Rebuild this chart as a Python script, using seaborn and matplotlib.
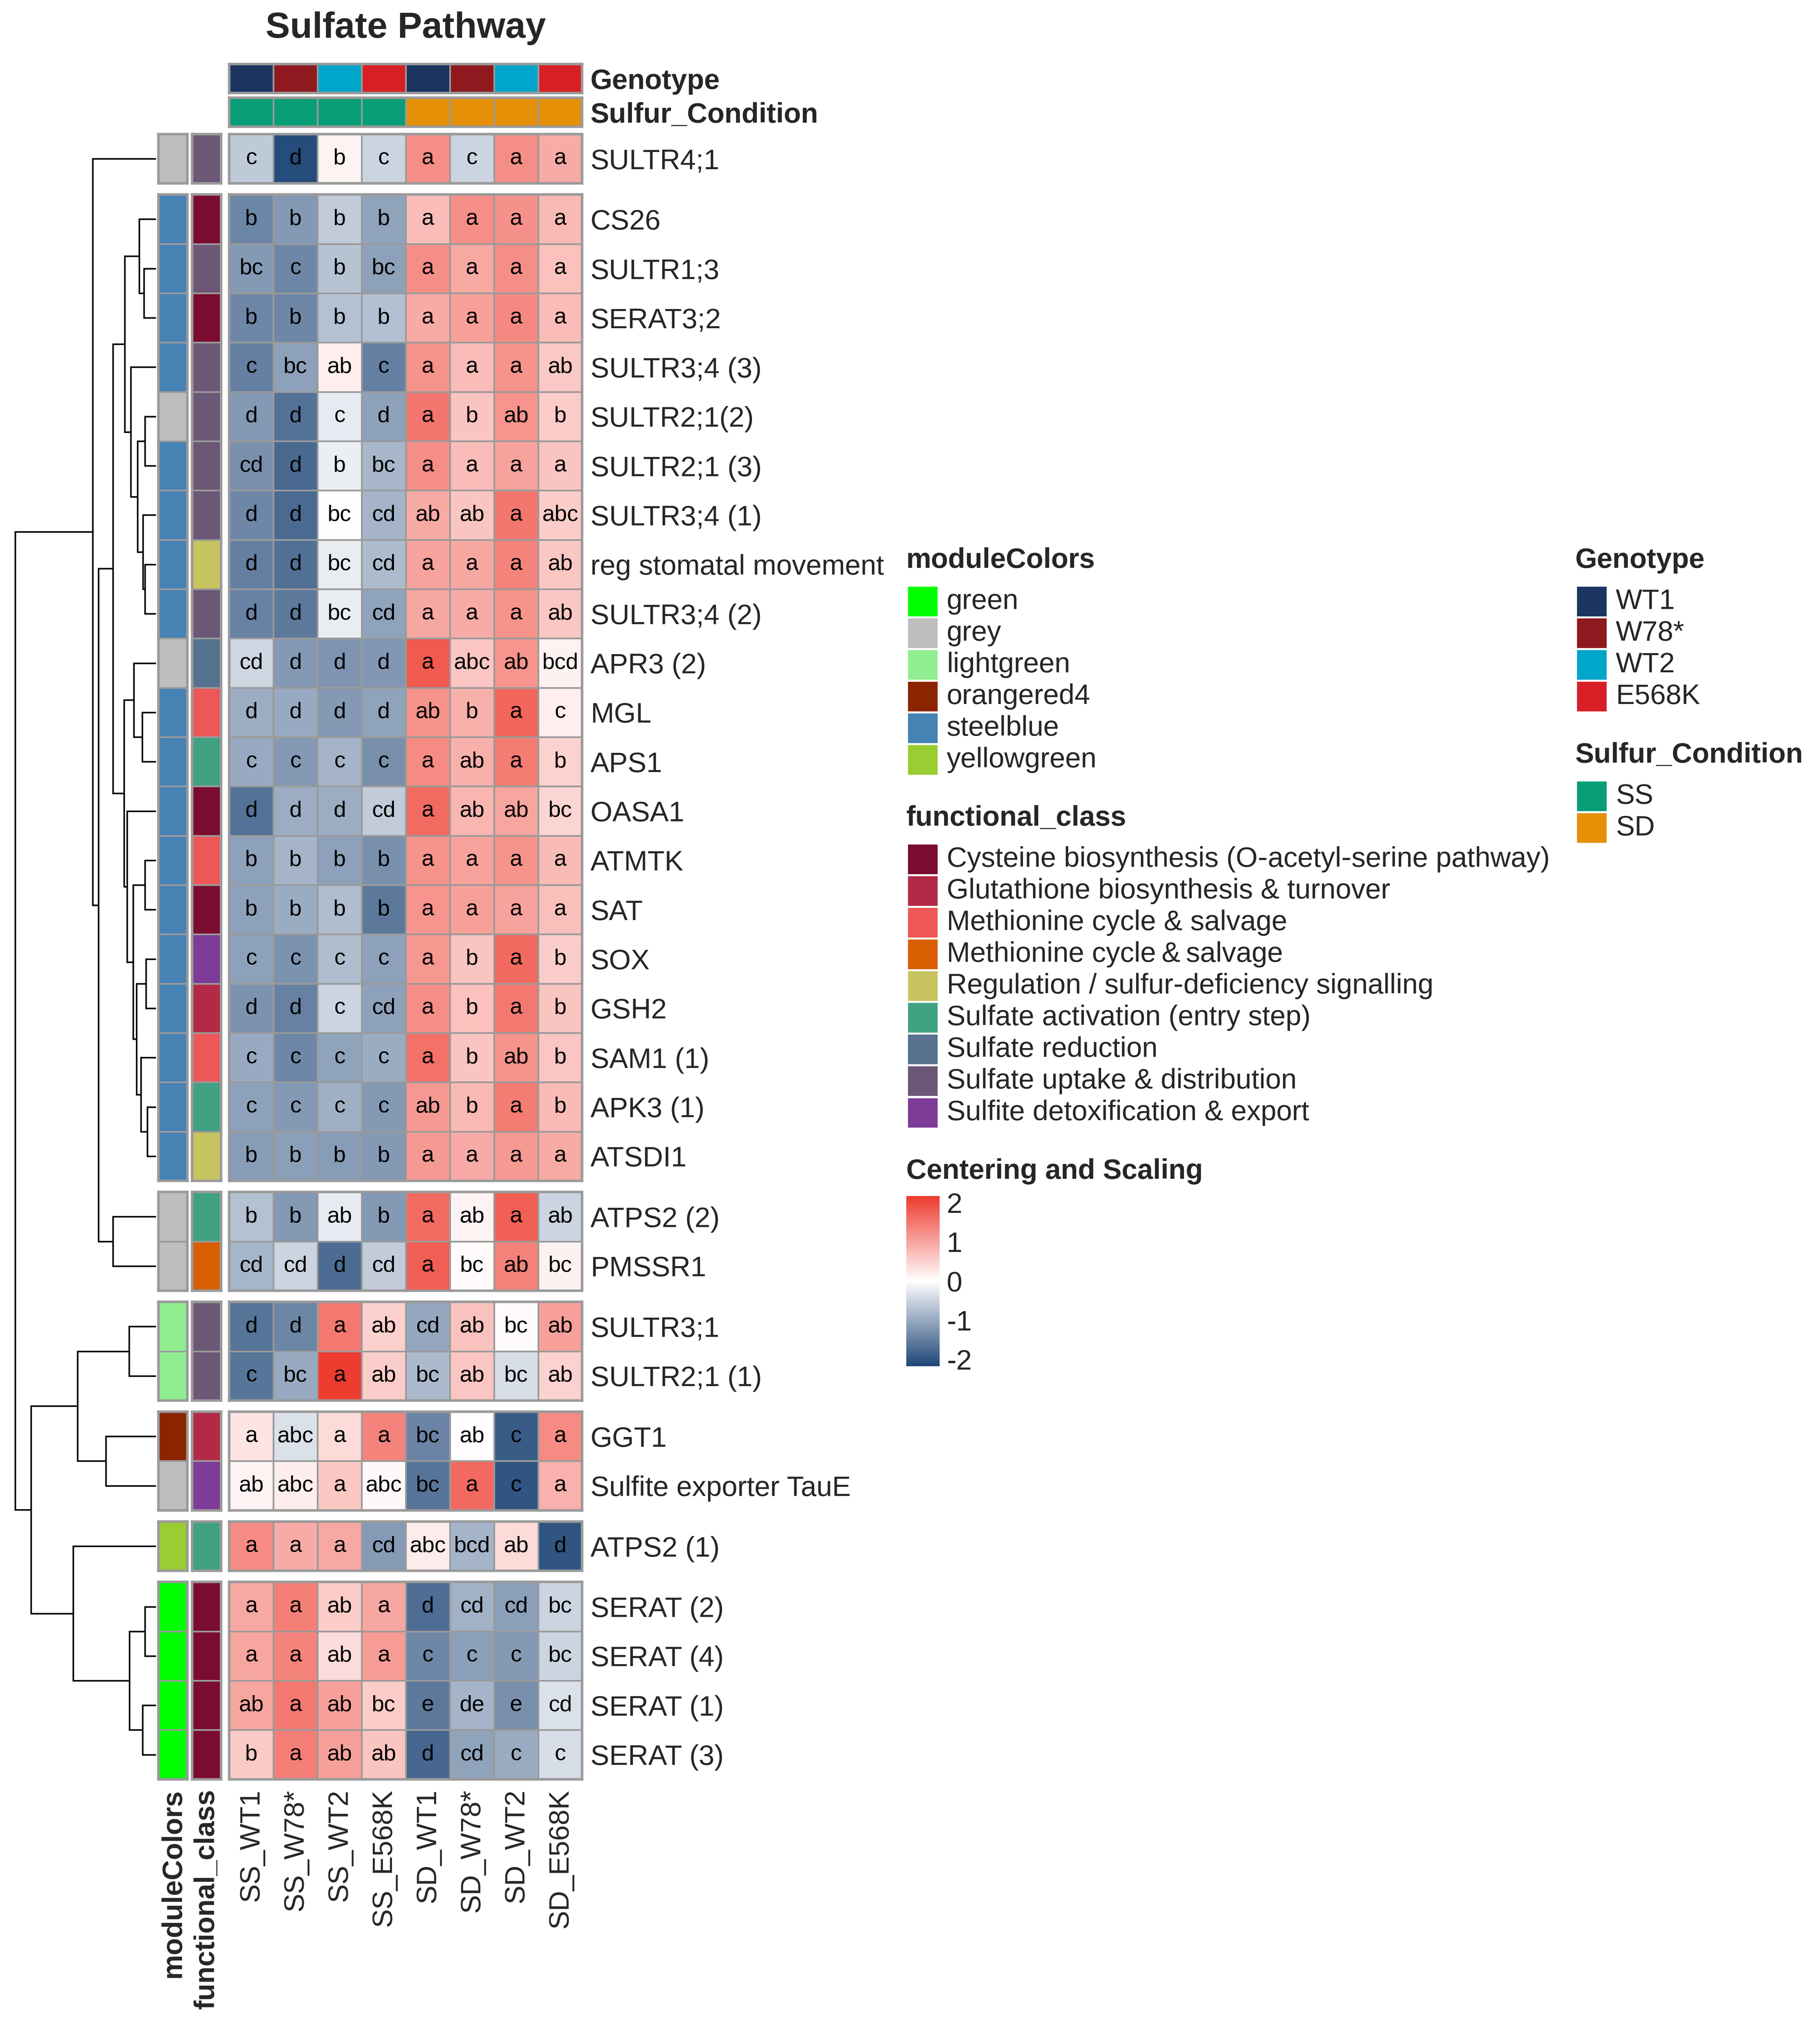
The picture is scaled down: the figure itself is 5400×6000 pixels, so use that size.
import numpy as np
import pandas as pd
import matplotlib
matplotlib.use("Agg")
import matplotlib.pyplot as plt
import seaborn as sns
from matplotlib.colors import LinearSegmentedColormap, ListedColormap, Normalize
from matplotlib.cm import ScalarMappable
from matplotlib.patches import Rectangle

sns.set_style("white")
plt.rcParams["font.family"] = ["Liberation Sans", "DejaVu Sans"]
plt.rcParams["axes.unicode_minus"] = False

# ----------------------------------------------------------------- data
samples = ["SS_WT1", "SS_W78*", "SS_WT2", "SS_E568K",
           "SD_WT1", "SD_W78*", "SD_WT2", "SD_E568K"]
genotype = ["WT1", "W78*", "WT2", "E568K", "WT1", "W78*", "WT2", "E568K"]
sulfur = ["SS", "SS", "SS", "SS", "SD", "SD", "SD", "SD"]

genes = ["SULTR4;1",
         "CS26", "SULTR1;3", "SERAT3;2", "SULTR3;4 (3)", "SULTR2;1(2)",
         "SULTR2;1 (3)", "SULTR3;4 (1)", "reg stomatal movement", "SULTR3;4 (2)",
         "APR3 (2)", "MGL", "APS1", "OASA1", "ATMTK", "SAT", "SOX", "GSH2",
         "SAM1 (1)", "APK3 (1)", "ATSDI1",
         "ATPS2 (2)", "PMSSR1",
         "SULTR3;1", "SULTR2;1 (1)",
         "GGT1", "Sulfite exporter TauE",
         "ATPS2 (1)",
         "SERAT (2)", "SERAT (4)", "SERAT (1)", "SERAT (3)"]
slice_sizes = [1, 20, 2, 2, 2, 1, 4]

module = ["grey",
          "steelblue", "steelblue", "steelblue", "steelblue", "grey",
          "steelblue", "steelblue", "steelblue", "steelblue",
          "grey", "steelblue", "steelblue", "steelblue", "steelblue", "steelblue",
          "steelblue", "steelblue", "steelblue", "steelblue", "steelblue",
          "grey", "grey",
          "lightgreen", "lightgreen",
          "orangered4", "grey",
          "yellowgreen",
          "green", "green", "green", "green"]

fclass = ["UPT",
          "CYS", "UPT", "CYS", "UPT", "UPT", "UPT", "UPT", "REG", "UPT",
          "RED", "MET", "ACT", "CYS", "MET", "CYS", "DET", "GSH", "MET", "ACT", "REG",
          "ACT", "MET2",
          "UPT", "UPT",
          "GSH", "DET",
          "ACT",
          "CYS", "CYS", "CYS", "CYS"]

zscore = [
    [-0.62, -2.10, 0.12, -0.50, 1.25, -0.50, 1.25, 0.92],
    [-1.42, -1.19, -0.60, -1.08, 0.73, 1.24, 1.22, 0.77],
    [-1.20, -1.40, -0.70, -1.10, 1.25, 0.96, 1.25, 0.68],
    [-1.40, -1.40, -0.72, -0.74, 0.92, 1.04, 1.30, 0.74],
    [-1.48, -1.10, 0.17, -1.48, 1.20, 0.74, 1.20, 0.60],
    [-1.19, -1.65, -0.23, -1.10, 1.50, 0.66, 1.18, 0.56],
    [-1.29, -1.75, -0.20, -0.84, 1.25, 0.73, 1.02, 0.66],
    [-1.40, -1.74, 0.03, -0.87, 0.94, 0.66, 1.50, 0.56],
    [-1.50, -1.67, -0.22, -0.78, 1.02, 0.98, 1.37, 0.62],
    [-1.47, -1.56, -0.21, -1.08, 0.98, 0.93, 1.20, 0.62],
    [-0.48, -1.19, -1.25, -1.22, 1.83, 0.64, 1.17, 0.15],
    [-0.95, -1.00, -1.20, -1.08, 1.20, 0.87, 1.68, 0.17],
    [-1.00, -1.19, -0.87, -1.30, 1.28, 0.88, 1.45, 0.50],
    [-1.65, -0.95, -0.95, -0.60, 1.63, 0.80, 1.00, 0.47],
    [-1.10, -0.88, -1.10, -1.29, 1.20, 1.02, 1.20, 0.76],
    [-1.10, -0.97, -0.77, -1.57, 1.18, 1.05, 1.02, 0.70],
    [-1.10, -1.27, -0.77, -1.10, 1.15, 0.65, 1.66, 0.55],
    [-1.27, -1.46, -0.50, -1.10, 1.25, 0.69, 1.48, 0.66],
    [-1.00, -1.40, -1.08, -0.97, 1.57, 0.66, 1.20, 0.64],
    [-1.10, -1.19, -0.92, -1.20, 1.12, 0.77, 1.45, 0.76],
    [-1.16, -1.12, -1.16, -1.19, 1.13, 0.92, 1.12, 0.94],
    [-0.72, -1.19, -0.23, -1.19, 1.63, 0.12, 1.76, -0.50],
    [-0.86, -0.50, -1.72, -0.60, 1.78, 0.04, 1.38, 0.14],
    [-1.62, -1.42, 1.48, 0.52, -1.02, 0.67, 0.04, 1.04],
    [-1.62, -1.00, 2.15, 0.55, -0.83, 0.64, -0.38, 0.50],
    [0.29, -0.34, 0.40, 1.37, -1.43, 0.02, -1.90, 1.28],
    [0.13, 0.20, 0.62, 0.07, -1.62, 1.65, -2.00, 0.86],
    [1.28, 0.92, 0.95, -1.17, 0.22, -0.88, 0.40, -2.00],
    [0.95, 1.42, 0.56, 0.98, -1.70, -0.90, -1.12, -0.50],
    [1.00, 1.37, 0.38, 1.10, -1.40, -1.12, -1.20, -0.50],
    [1.00, 1.48, 1.04, 0.56, -1.57, -0.88, -1.30, -0.34],
    [0.58, 1.42, 1.04, 0.66, -1.77, -1.08, -0.97, -0.40],
]

letters = [
    ["c", "d", "b", "c", "a", "c", "a", "a"],
    ["b", "b", "b", "b", "a", "a", "a", "a"],
    ["bc", "c", "b", "bc", "a", "a", "a", "a"],
    ["b", "b", "b", "b", "a", "a", "a", "a"],
    ["c", "bc", "ab", "c", "a", "a", "a", "ab"],
    ["d", "d", "c", "d", "a", "b", "ab", "b"],
    ["cd", "d", "b", "bc", "a", "a", "a", "a"],
    ["d", "d", "bc", "cd", "ab", "ab", "a", "abc"],
    ["d", "d", "bc", "cd", "a", "a", "a", "ab"],
    ["d", "d", "bc", "cd", "a", "a", "a", "ab"],
    ["cd", "d", "d", "d", "a", "abc", "ab", "bcd"],
    ["d", "d", "d", "d", "ab", "b", "a", "c"],
    ["c", "c", "c", "c", "a", "ab", "a", "b"],
    ["d", "d", "d", "cd", "a", "ab", "ab", "bc"],
    ["b", "b", "b", "b", "a", "a", "a", "a"],
    ["b", "b", "b", "b", "a", "a", "a", "a"],
    ["c", "c", "c", "c", "a", "b", "a", "b"],
    ["d", "d", "c", "cd", "a", "b", "a", "b"],
    ["c", "c", "c", "c", "a", "b", "ab", "b"],
    ["c", "c", "c", "c", "ab", "b", "a", "b"],
    ["b", "b", "b", "b", "a", "a", "a", "a"],
    ["b", "b", "ab", "b", "a", "ab", "a", "ab"],
    ["cd", "cd", "d", "cd", "a", "bc", "ab", "bc"],
    ["d", "d", "a", "ab", "cd", "ab", "bc", "ab"],
    ["c", "bc", "a", "ab", "bc", "ab", "bc", "ab"],
    ["a", "abc", "a", "a", "bc", "ab", "c", "a"],
    ["ab", "abc", "a", "abc", "bc", "a", "c", "a"],
    ["a", "a", "a", "cd", "abc", "bcd", "ab", "d"],
    ["a", "a", "ab", "a", "d", "cd", "cd", "bc"],
    ["a", "a", "ab", "a", "c", "c", "c", "bc"],
    ["ab", "a", "ab", "bc", "e", "de", "e", "cd"],
    ["b", "a", "ab", "ab", "d", "cd", "c", "c"],
]

# row dendrogram: (child_a, child_b, height); leaves are 0..31, merges get 32, 33, ...
merges = [
    (2, 3, 9.4), (1, 32, 13.0), (5, 6, 8.6), (8, 9, 8.6), (7, 35, 10.1),
    (34, 36, 14.2), (4, 37, 19.5), (33, 38, 24.2), (11, 12, 10.7), (10, 40, 17.3),
    (14, 15, 8.6), (16, 17, 7.7), (19, 20, 6.8), (18, 44, 11.8), (43, 45, 15.0),
    (42, 46, 17.7), (13, 47, 22.5), (41, 48, 24.7), (39, 49, 33.4), (21, 22, 33.4),
    (50, 51, 44.7), (0, 52, 49.0), (23, 24, 20.9), (25, 26, 38.8), (54, 55, 60.8),
    (28, 29, 8.5), (30, 31, 10.5), (57, 58, 20.7), (27, 59, 64.2), (56, 60, 97.0),
    (53, 61, 109.2),
]

# legends / colours
module_levels = ["green", "grey", "lightgreen", "orangered4", "steelblue", "yellowgreen"]
module_colors = ["#00FF00", "#BEBEBE", "#90EE90", "#8B2500", "#4682B4", "#9ACD32"]

fclass_codes = ["CYS", "GSH", "MET", "MET2", "REG", "ACT", "RED", "UPT", "DET"]
fclass_labels = ["Cysteine biosynthesis (O\u2011acetyl\u2011serine pathway)",
                 "Glutathione biosynthesis & turnover",
                 "Methionine cycle & salvage",
                 "Methionine cycle\u2009&\u2009salvage",
                 "Regulation / sulfur\u2011deficiency signalling",
                 "Sulfate activation (entry step)",
                 "Sulfate reduction",
                 "Sulfate uptake & distribution",
                 "Sulfite detoxification & export"]
fclass_colors = ["#7A0C30", "#B22A46", "#EE5757", "#D95F02", "#C7C35F",
                 "#41A183", "#56728F", "#6C5777", "#7D3C98"]

geno_levels = ["WT1", "W78*", "WT2", "E568K"]
geno_colors = ["#1C3560", "#8E1A1F", "#00A5CB", "#D91F26"]
sulfur_levels = ["SS", "SD"]
sulfur_colors = ["#079E77", "#E69008"]

cmap = LinearSegmentedColormap.from_list("cs", ["#1F4677", "#FFFFFF", "#EE3B2E"])
VMIN, VMAX = -2.17, 2.17
GRID = "#9A9A9A"

# ----------------------------------------------------------------- layout (reference-view pixel units)
W, H = 1412.0, 1569.0


def rect(x0, y0, x1, y1):
    return [x0 / W, 1 - y1 / H, (x1 - x0) / W, (y1 - y0) / H]


HM_X0, HM_X1 = 177.8, 451.7
MC_X0, MC_X1 = 123.0, 145.4
FC_X0, FC_X1 = 149.0, 171.6
TOP, RH, GAP = 104.0, 38.27, 8.67

fig = plt.figure(figsize=(18, 20), dpi=100)

# slice extents and leaf centres
slice_bounds = []
leaf_y = []
y = TOP
start = 0
for n in slice_sizes:
    slice_bounds.append((start, start + n, y, y + n * RH))
    for k in range(n):
        leaf_y.append(y + (k + 0.5) * RH)
    y += n * RH + GAP
    start += n
BOTTOM = slice_bounds[-1][3]

zdf = pd.DataFrame(zscore, index=genes, columns=samples)
ldf = pd.DataFrame(letters, index=genes, columns=samples)
mod_code = np.array([module_levels.index(m) for m in module]).reshape(-1, 1)
fc_code = np.array([fclass_codes.index(f) for f in fclass]).reshape(-1, 1)
mod_cmap = ListedColormap(module_colors)
fc_cmap = ListedColormap(fclass_colors)


def border(ax, lw=1.8):
    for sp in ax.spines.values():
        sp.set_visible(True)
        sp.set_color(GRID)
        sp.set_linewidth(lw)


for si, (r0, r1, y0, y1) in enumerate(slice_bounds):
    last = si == len(slice_bounds) - 1
    ax = fig.add_axes(rect(HM_X0, y0, HM_X1, y1))
    sns.heatmap(zdf.iloc[r0:r1], ax=ax, cmap=cmap, vmin=VMIN, vmax=VMAX,
                annot=ldf.iloc[r0:r1].values, fmt="",
                annot_kws={"fontsize": 16, "color": "black"},
                linewidths=1.1, linecolor=GRID, cbar=False,
                xticklabels=samples if last else False,
                yticklabels=genes[r0:r1])
    ax.yaxis.tick_right()
    ax.tick_params(axis="y", length=0, pad=5.8, labelsize=20, labelrotation=0)
    ax.set_xlabel("")
    ax.set_ylabel("")
    if last:
        ax.tick_params(axis="x", length=0, pad=7, labelsize=20, labelrotation=90)
    border(ax)

    for (code, cm_, name, x0, x1) in [(mod_code, mod_cmap, "moduleColors", MC_X0, MC_X1),
                                      (fc_code, fc_cmap, "functional_class", FC_X0, FC_X1)]:
        aax = fig.add_axes(rect(x0, y0, x1, y1))
        ncol = cm_.N
        sns.heatmap(code[r0:r1], ax=aax, cmap=cm_, vmin=-0.5, vmax=ncol - 0.5,
                    cbar=False, linewidths=1.1, linecolor=GRID,
                    xticklabels=[name] if last else False, yticklabels=False)
        if last:
            aax.tick_params(axis="x", length=0, pad=7, labelsize=20, labelrotation=90)
            for t in aax.get_xticklabels():
                t.set_fontweight("bold")
        border(aax)

# top annotations
for (vals, levels, cols, name, y0, y1) in [
        (genotype, geno_levels, geno_colors, "Genotype", 49.7, 72.2),
        (sulfur, sulfur_levels, sulfur_colors, "Sulfur_Condition", 75.9, 98.3)]:
    tax = fig.add_axes(rect(HM_X0, y0, HM_X1, y1))
    codes = np.array([levels.index(v) for v in vals]).reshape(1, -1)
    sns.heatmap(codes, ax=tax, cmap=ListedColormap(cols), vmin=-0.5, vmax=len(cols) - 0.5,
                cbar=False, linewidths=1.1, linecolor=GRID,
                xticklabels=False, yticklabels=[name])
    tax.yaxis.tick_right()
    tax.tick_params(axis="y", length=0, pad=5.8, labelsize=20, labelrotation=0)
    for t in tax.get_yticklabels():
        t.set_fontweight("bold")
    border(tax)

# dendrogram
dax = fig.add_axes(rect(10.0, TOP, 121.0, BOTTOM))
pos_y = {i: leaf_y[i] for i in range(len(genes))}
pos_h = {i: 0.0 for i in range(len(genes))}
for k, (a, b, h) in enumerate(merges):
    node = len(genes) + k
    dax.plot([pos_h[a], h, h, pos_h[b]], [pos_y[a], pos_y[a], pos_y[b], pos_y[b]],
             color="black", lw=1.1, solid_joinstyle="miter")
    pos_y[node] = (pos_y[a] + pos_y[b]) / 2
    pos_h[node] = h
dax.set_xlim(111.0, 0.0)
dax.set_ylim(BOTTOM, TOP)
dax.axis("off")

# title
fig.text((HM_X0 + HM_X1) / 2 / W, 1 - 22 / H, "Sulfate Pathway",
         fontsize=26, fontweight="bold", ha="center", va="center")

# legends (overlay axis in reference-view pixel units)
lax = fig.add_axes([0, 0, 1, 1])
lax.set_xlim(0, W)
lax.set_ylim(H, 0)
lax.axis("off")
STEP = 24.6


def draw_legend(x, y_title, title, labels, colors):
    lax.text(x, y_title, title, fontsize=20, fontweight="bold", ha="left", va="center")
    top = y_title + 19.5
    for i, (lab, col) in enumerate(zip(labels, colors)):
        t = top + i * STEP
        lax.add_patch(Rectangle((x + 1.5, t + 0.8), 23.0, STEP - 1.6,
                                facecolor=col, edgecolor="none"))
        lax.text(x + 31.5, t + STEP / 2, lab, fontsize=20, ha="left", va="center")


draw_legend(703, 435, "moduleColors", module_levels, module_colors)
draw_legend(703, 635, "functional_class", fclass_labels, fclass_colors)
draw_legend(1222, 435, "Genotype", geno_levels, geno_colors)
draw_legend(1222, 586, "Sulfur_Condition", sulfur_levels, sulfur_colors)

# colour bar
lax.text(703, 909, "Centering and Scaling", fontsize=20, fontweight="bold",
         ha="left", va="center")
cax = fig.add_axes(rect(703, 928, 729, 1060))
sm = ScalarMappable(norm=Normalize(VMIN, VMAX), cmap=cmap)
cb = fig.colorbar(sm, cax=cax, ticks=[-2, -1, 0, 1, 2])
cb.outline.set_visible(False)
cax.minorticks_off()
cax.tick_params(axis="y", direction="in", length=5.5, width=1.3, color="white",
                left=True, right=True, labelleft=False, labelright=True,
                labelsize=20, pad=5)

fig.savefig("out.png", dpi=300)
